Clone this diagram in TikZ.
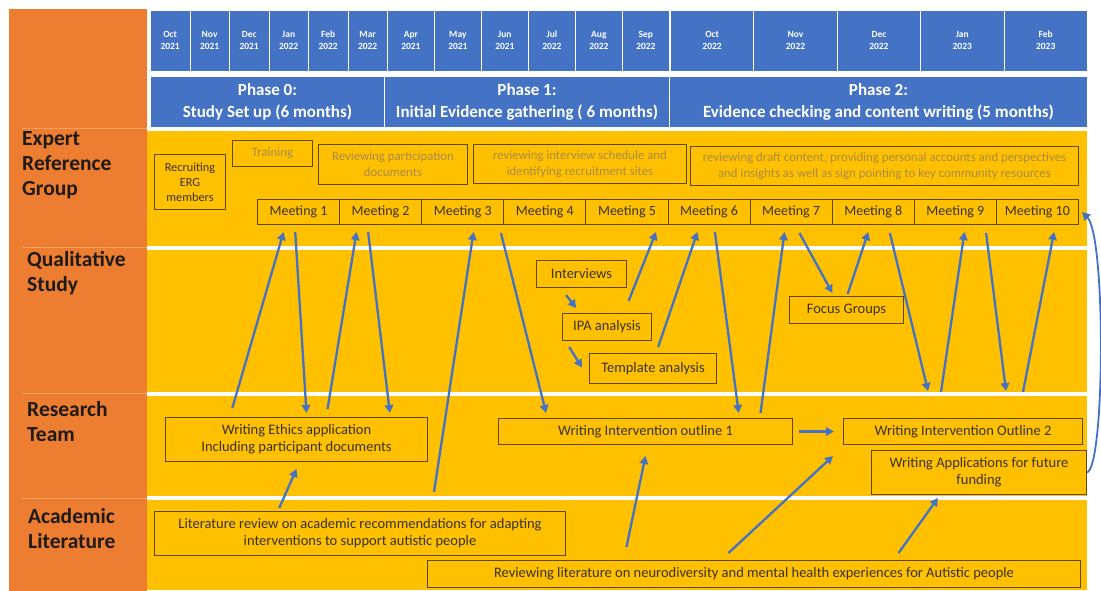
\documentclass[tikz,border=0pt]{standalone}
\usepackage{fontspec}
\setmainfont{Carlito}
\usetikzlibrary{arrows.meta,calc}
\definecolor{orng}{HTML}{ED7D31}
\definecolor{yel}{HTML}{FFC000}
\definecolor{hblue}{HTML}{4472C4}
\definecolor{abl}{HTML}{4472C4}
\definecolor{bord}{HTML}{5C4A0A}
\definecolor{txt}{HTML}{3A3222}
\definecolor{faded}{HTML}{A88B4A}
\definecolor{oline}{HTML}{F5A35C}
\definecolor{sidetxt}{HTML}{1E1A16}
\tikzset{
 lbl/.style={anchor=north west, inner sep=0pt, align=left, font=\fontsize{21.5}{25}\selectfont\bfseries, text=sidetxt},
 tbox/.style={anchor=north west, draw=bord, line width=1pt, inner sep=0pt, align=center, text=txt, font=\fontsize{14.5}{17}\selectfont},
 fbox/.style={tbox, text=faded, font=\fontsize{12.8}{16}\selectfont},
 mtg/.style={tbox, minimum width=82.1pt, minimum height=25pt, font=\fontsize{14}{17}\selectfont},
 month/.style={anchor=north west, fill=hblue, draw=white, line width=0.8pt, inner sep=0pt, align=center, text=white, font=\fontsize{9.5}{12}\selectfont\bfseries, minimum height=61pt},
 phase/.style={anchor=north west, fill=hblue, draw=white, line width=1pt, inner sep=0pt, align=center, text=white, font=\fontsize{17}{22}\selectfont\bfseries, minimum height=51pt},
 arr/.style={draw=abl, line width=2.3pt, -{Triangle[length=8pt,width=8.5pt]}},
}
\begin{document}
\begin{tikzpicture}[x=1pt,y=-1pt]
\useasboundingbox (0,0) rectangle (1101,591);
\fill[white] (0,0) rectangle (1101,591);
% left column
\fill[orng] (9,9) rectangle (147,591);
\foreach \yy in {128.5,247.5,393.5,498.5} \draw[oline,line width=1pt] (22,\yy) -- (147,\yy);
% rows
\fill[yel] (147,131) rectangle (1087,246);
\fill[yel] (147,250) rectangle (1087,392);
\fill[yel] (147,396) rectangle (1087,496);
\fill[yel] (147,500) rectangle (1087,590);
% months
\foreach \mo/\yr [count=\i from 0] in {Oct/2021,Nov/2021,Dec/2021,Jan/2022,Feb/2022,Mar/2022}
  \node[month, minimum width=39.5pt] (mo\i) at ({150+39.5*\i},10) {\strut\mo\\\strut\yr};
\foreach \mo/\yr [count=\i from 0] in {Apr/2021,May/2021,Jun/2021,Jul/2022,Aug/2022,Sep/2022}
  \node[month, minimum width=47pt] (mp\i) at ({387+47*\i},10) {\strut\mo\\\strut\yr};
\foreach \mo/\yr [count=\i from 0] in {Oct/2022,Nov/2022,Dec/2022,Jan/2023,Feb/2023}
  \node[month, minimum width=83.4pt] (mq\i) at ({670+83.4*\i},10) {\strut\mo\\\strut\yr};
% phases
\node[phase, minimum width=234pt] (ph0) at (150,76) {Phase 0:\\Study Set up (6 months)};
\node[phase, minimum width=285pt] (ph1) at (384,76) {Phase 1:\\Initial Evidence gathering ( 6 months)};
\node[phase, minimum width=418pt] (ph2) at (669,76) {Phase 2:\\Evidence checking and content writing (5 months)};
% side labels
\node[lbl] (lerg) at (22,131) {Expert\\Reference\\Group};
\node[lbl] (lqual) at (27,251) {Qualitative\\Study};
\node[lbl] (lres) at (27,401) {Research\\Team};
\node[lbl] (lacad) at (28,508) {Academic\\Literature};
% ERG boxes
\node[tbox, minimum width=71pt, minimum height=55pt, font=\fontsize{12.3}{15}\selectfont] (recr) at (154,154) {Recruiting\\ERG\\members};
\node[fbox, minimum width=80pt, minimum height=26pt] (train) at (232,140) {Training};
\node[fbox, minimum width=149pt, minimum height=40pt] (revp) at (318,144) {Reviewing participation\\documents};
\node[fbox, minimum width=213pt, minimum height=39pt] (revi) at (473,144) {reviewing interview schedule and\\identifying recruitment sites};
\node[fbox, minimum width=388pt, minimum height=39pt] (revd) at (690,146) {reviewing draft content, providing personal accounts and perspectives\\and insights as well as sign pointing to key community resources};
\foreach \k in {1,...,10}
  \node[mtg] (m\k) at ({257+82.1*(\k-1)},199) {Meeting \k};
% qualitative
\node[tbox, minimum width=90pt, minimum height=27pt] (intv) at (536,260) {Interviews};
\node[tbox, minimum width=89pt, minimum height=27pt] (ipa) at (562,313) {IPA analysis};
\node[tbox, minimum width=127pt, minimum height=30pt] (tmpl) at (589,353) {Template analysis};
\node[tbox, minimum width=114pt, minimum height=27pt] (fg) at (789,296) {Focus Groups};
% research
\node[tbox, minimum width=262pt, minimum height=44pt] (eth) at (165,417) {Writing Ethics application\\Including participant documents};
\node[tbox, minimum width=294pt, minimum height=26pt] (out1) at (498,418) {Writing Intervention outline 1};
\node[tbox, minimum width=239pt, minimum height=26pt] (out2) at (843,418) {Writing Intervention Outline 2};
\node[tbox, minimum width=215pt, minimum height=44pt] (fund) at (871,450) {Writing Applications for future\\funding};
% academic
\node[tbox, minimum width=411pt, minimum height=44pt] (lit) at (154,511) {Literature review on academic recommendations for adapting\\interventions to support autistic people};
\node[tbox, minimum width=653pt, minimum height=27pt] (rev) at (427,560) {Reviewing literature on neurodiversity and mental health experiences for Autistic people};
% free ends
\coordinate (c5) at (434,492);
\coordinate (c15) at (928,391);
\coordinate (c16) at (941,392);
\coordinate (c17) at (1006,391);
\coordinate (c18) at (1023,392);
% arrows
\draw[arr] ($(eth.north west)!.256!(eth.north east)+(0,-9)$) -- ($(m1.south west)!.32!(m1.south east)+(0,7)$);
\draw[arr] ($(m1.south west)!.46!(m1.south east)+(0,7)$) -- ($(eth.north west)!.538!(eth.north east)+(0,-4)$);
\draw[arr] ($(eth.north west)!.618!(eth.north east)+(0,-8)$) -- ($(m2.south west)!.21!(m2.south east)+(0,7)$);
\draw[arr] ($(m2.south west)!.35!(m2.south east)+(0,7)$) -- ($(eth.north west)!.855!(eth.north east)+(0,-4)$);
\draw[arr] (c5) -- ($(m3.south west)!.63!(m3.south east)+(0,7)$);
\draw[arr] ($(m3.south west)!.96!(m3.south east)+(0,8)$) -- ($(out1.north west)!.163!(out1.north east)+(0,-5)$);
\draw[arr] ($(intv.south west)!.33!(intv.south east)+(0,7)$) -- ($(ipa.north west)!.157!(ipa.north east)+(0,-5)$);
\draw[arr] ($(ipa.south west)!.08!(ipa.south east)+(0,6)$) -- ($(tmpl.west)+(-7,-1)$);
\draw[arr] ($(ipa.north west)!.74!(ipa.north east)+(0,-12)$) -- ($(m5.south west)!.85!(m5.south east)+(0,7)$);
\draw[arr] ($(tmpl.north west)!.54!(tmpl.north east)+(0,-6)$) -- ($(m6.south west)!.36!(m6.south east)+(0,7)$);
\draw[arr] ($(m6.south west)!.57!(m6.south east)+(0,7)$) -- ($(out1.north west)!.816!(out1.north east)+(0,-5)$);
\draw[arr] ($(out1.north west)!.89!(out1.north east)+(0,-5)$) -- ($(m7.south west)!.42!(m7.south east)+(0,7)$);
\draw[arr] ($(m7.south west)!.60!(m7.south east)+(0,8)$) -- ($(fg.north west)!.377!(fg.north east)+(0,-3)$);
\draw[arr] ($(fg.north west)!.51!(fg.north east)+(0,-2)$) -- ($(m8.south west)!.44!(m8.south east)+(0,7)$);
\draw[arr] ($(m8.south west)!.70!(m8.south east)+(0,8)$) -- (c15);
\draw[arr] (c16) -- ($(m9.south west)!.61!(m9.south east)+(0,7)$);
\draw[arr] ($(m9.south west)!.87!(m9.south east)+(0,8)$) -- (c17);
\draw[arr] (c18) -- ($(m10.south west)!.70!(m10.south east)+(0,7)$);
\draw[arr] ($(out1.east)+(6,0)$) -- ($(out2.west)+(-9,0)$);
\draw[arr] ($(rev.north west)!.305!(rev.north east)+(0,-13)$) -- ($(out1.south west)!.50!(out1.south east)+(0,11)$);
\draw[arr] ($(rev.north west)!.461!(rev.north east)+(0,-7)$) -- ($(out2.south west)+(-10,11)$);
\draw[arr] ($(rev.north west)!.721!(rev.north east)+(0,-7)$) -- ($(fund.south west)!.31!(fund.south east)+(0,3)$);
\draw[arr] ($(lit.north west)!.304!(lit.north east)+(0,-3)$) -- ($(eth.south west)!.5!(eth.south east)+(0,7)$);
\draw[arr, line width=1.8pt] (fund.east) .. controls +(18,-6) and +(24,24) .. ($(m10.east)+(3,0)$);
\end{tikzpicture}
\end{document}
